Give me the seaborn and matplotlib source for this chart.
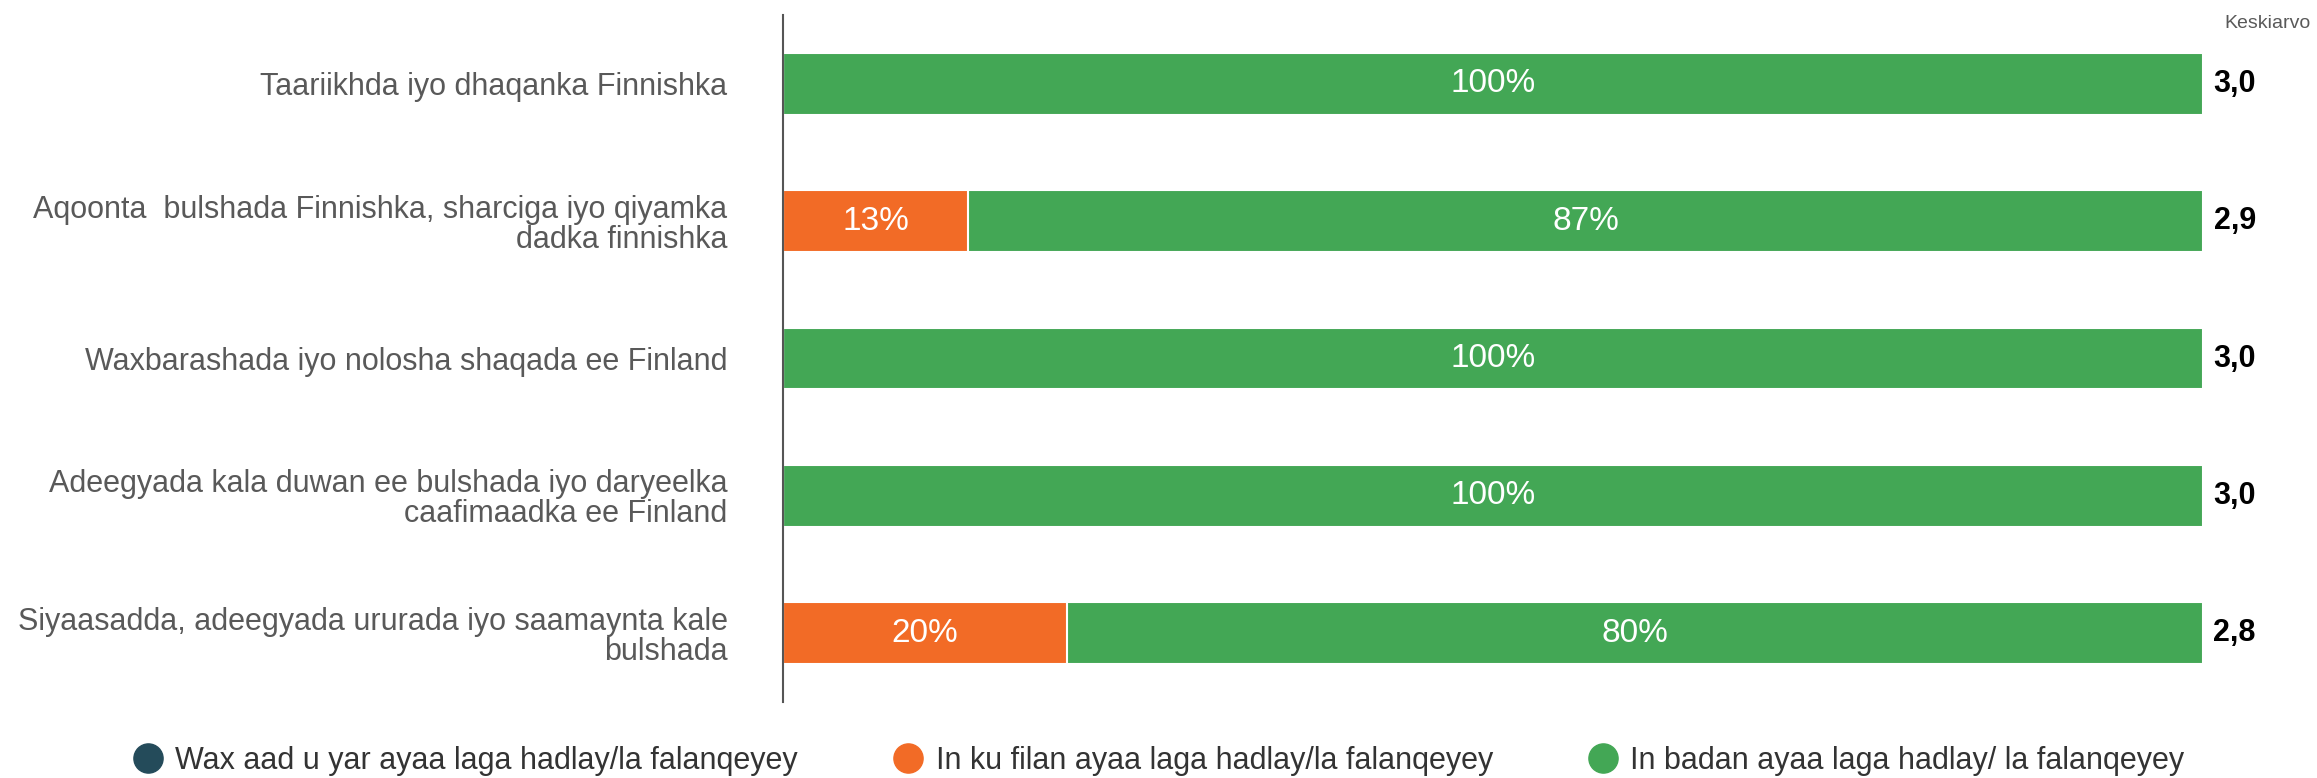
import numpy as np
import pandas as pd
import matplotlib
matplotlib.use("Agg")
import matplotlib.pyplot as plt
import matplotlib.transforms as mtransforms
from matplotlib.lines import Line2D
import seaborn as sns

# Kysymykset ja jakaumat
categories = [
    "Taariikhda iyo dhaqanka Finnishka",
    "Aqoonta  bulshada Finnishka, sharciga iyo qiyamka\ndadka finnishka",
    "Waxbarashada iyo nolosha shaqada ee Finland",
    "Adeegyada kala duwan ee bulshada iyo daryeelka\ncaafimaadka ee Finland",
    "Siyaasadda, adeegyada ururada iyo saamaynta kale\nbulshada",
]
series_names = [
    "Wax aad u yar ayaa laga hadlay/la falanqeyey",
    "In ku filan ayaa laga hadlay/la falanqeyey",
    "In badan ayaa laga hadlay/ la falanqeyey",
]
low = [0, 0, 0, 0, 0]
mid = [0, 13, 0, 0, 20]
high = [100, 87, 100, 100, 80]
means = ["3,0", "2,9", "3,0", "3,0", "2,8"]

colors = ["#244B5A", "#F26B26", "#43A755"]

sns.set_theme(style="white")
plt.rcParams["font.family"] = ["Liberation Sans", "DejaVu Sans"]

df = pd.DataFrame({"cat": categories, "low": low, "mid": mid, "high": high})
df["c1"] = df["low"]
df["c2"] = df["low"] + df["mid"]
df["c3"] = df["c2"] + df["high"]

fig = plt.figure(figsize=(23.17, 7.78), dpi=100)
ax = fig.add_axes([0.338, 0.0977, 0.951 - 0.338, 0.9807 - 0.0977])

# pinotaan: piirretään kumulatiiviset summat takaperin
for col, color in zip(["c3", "c2", "c1"], colors[::-1]):
    sns.barplot(data=df, y="cat", x=col, orient="h", color=color, width=0.45,
                edgecolor="white", linewidth=1.5, ax=ax, saturation=1)

# prosenttiarvot
for i, row in df.iterrows():
    starts = [0, row["c1"], row["c2"]]
    vals = [row["low"], row["mid"], row["high"]]
    for s, v in zip(starts, vals):
        if v > 0:
            ax.text(s + v / 2, i, f"{v}%", ha="center", va="center",
                    color="white", fontsize=24)

# keskiarvot
trans = mtransforms.blended_transform_factory(ax.transAxes, ax.transData)
for i, m in enumerate(means):
    ax.text(1.022, i, m, transform=trans, ha="center", va="center",
            fontsize=22, fontweight="bold", color="black")
fig.text(2268 / 2317, 1 - 24 / 778, "Keskiarvo", ha="center", va="center",
         fontsize=14, color="#595959")

ax.set_xlim(0, 100)
ax.set_ylim(4.5, -0.5)
ax.set_xlabel("")
ax.set_ylabel("")
ax.set_xticks([])
ax.tick_params(axis="y", length=0, pad=40, labelsize=22, labelcolor="#595959")
for lbl in ax.get_yticklabels():
    lbl.set_linespacing(1.0)
for side in ["top", "right", "bottom"]:
    ax.spines[side].set_visible(False)
ax.spines["left"].set_color("#555555")
ax.spines["left"].set_linewidth(1.5)

handles = [Line2D([0], [0], marker="o", linestyle="", markersize=21,
                  markerfacecolor=c, markeredgecolor=c) for c in colors]
fig.legend(handles, series_names, loc="center", bbox_to_anchor=(0.5, 1 - 761 / 778),
           ncol=3, frameon=False, fontsize=22, handlelength=1, handletextpad=0.4,
           columnspacing=3.1, labelcolor="#333333")

fig.savefig("out.png", dpi=100)
